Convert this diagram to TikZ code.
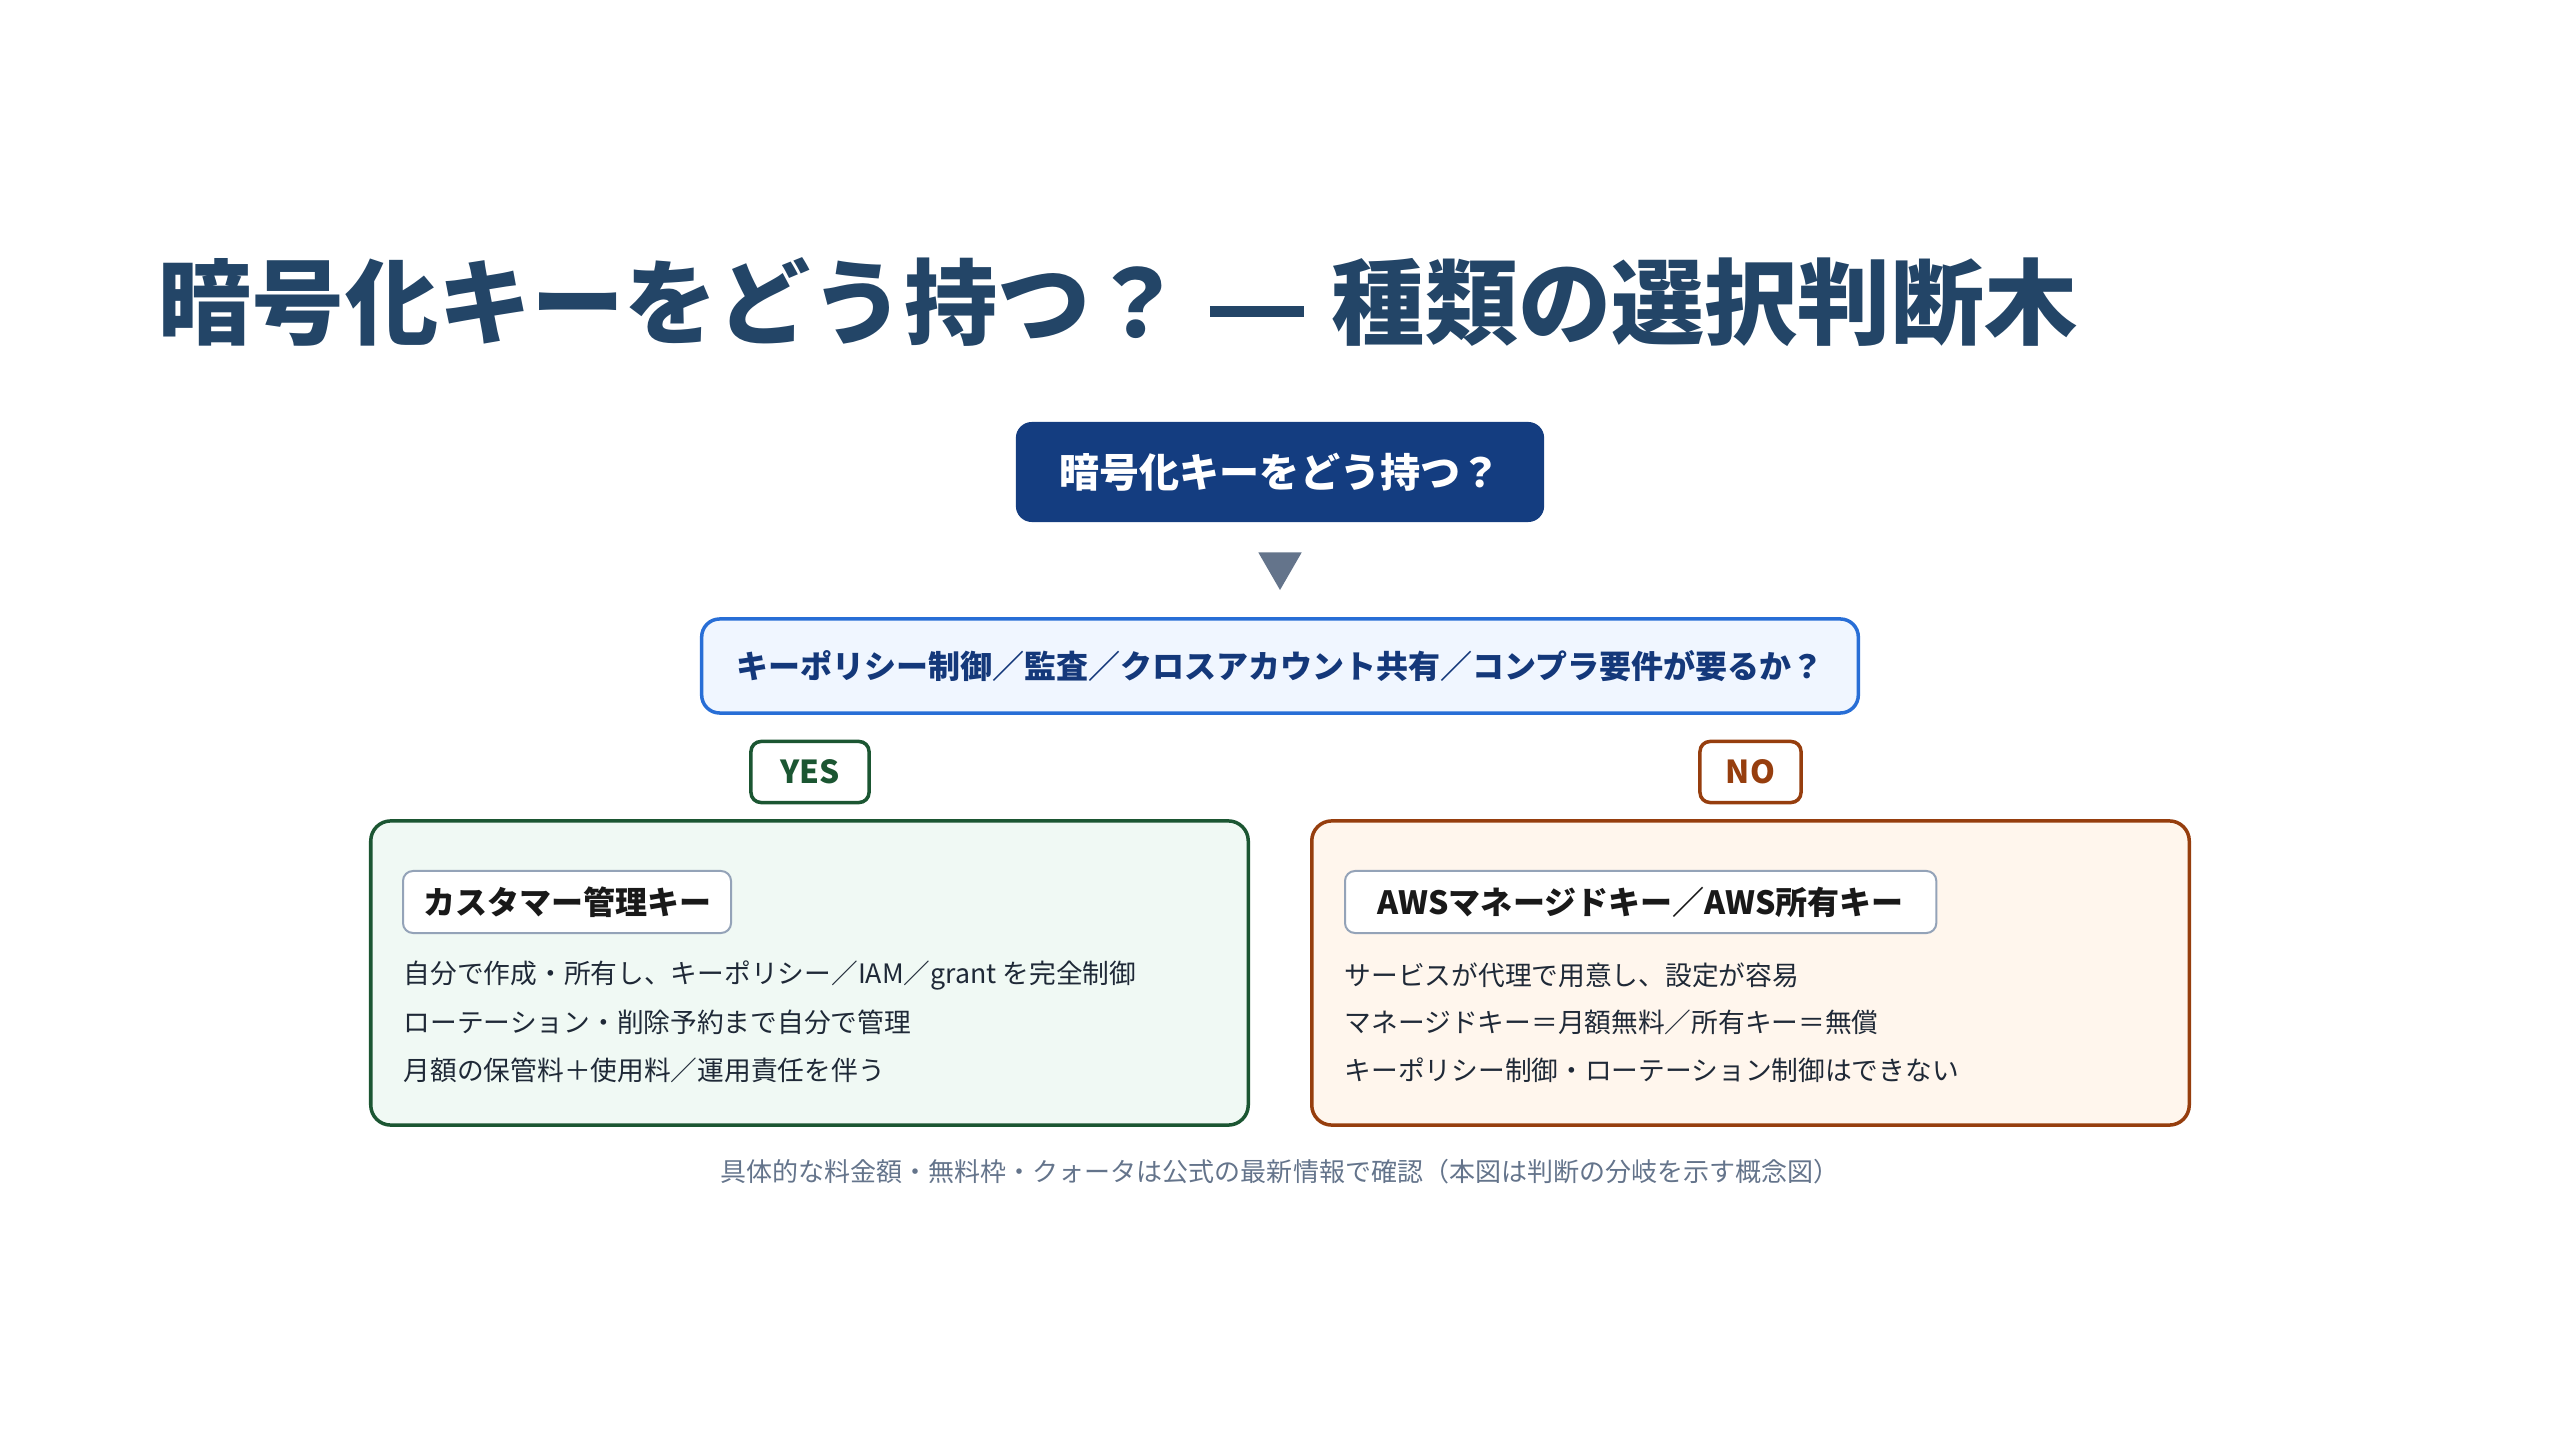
\documentclass[tikz,border=0pt]{standalone}
\usepackage{fontspec}
\setmainfont{Noto Sans CJK JP}
\usetikzlibrary{shapes.geometric}

\definecolor{titlenavy}{RGB}{35,69,103}
\definecolor{rootblue}{RGB}{20,61,128}
\definecolor{askblue}{RGB}{40,110,214}
\definecolor{askfill}{RGB}{240,246,255}
\definecolor{asktext}{RGB}{20,56,122}
\definecolor{yesgreen}{RGB}{27,86,50}
\definecolor{yesfill}{RGB}{240,249,244}
\definecolor{nobrown}{RGB}{150,62,14}
\definecolor{nofill}{RGB}{255,246,237}
\definecolor{tagline}{RGB}{148,163,184}
\definecolor{bodyink}{RGB}{31,41,55}
\definecolor{notegray}{RGB}{100,116,139}

\begin{document}
\begin{tikzpicture}[x=0.01cm,y=-0.01cm,
    root/.style={fill=rootblue,text=white,rounded corners=0.16cm,
      minimum width=5.28cm,minimum height=1cm,font=\fontsize{11.4}{13}\selectfont\bfseries},
    ask/.style={fill=askfill,draw=askblue,line width=0.035cm,rounded corners=0.18cm,
      minimum width=11.56cm,minimum height=0.94cm,text=asktext,font=\fontsize{9.1}{11}\selectfont\bfseries},
    badge/.style={fill=white,line width=0.035cm,rounded corners=0.1cm,
      minimum height=0.61cm,font=\fontsize{9}{11}\selectfont\bfseries},
    branch/.style={line width=0.035cm,rounded corners=0.2cm,
      minimum width=8.77cm,minimum height=3.04cm},
    tag/.style={anchor=west,fill=white,draw=tagline,line width=0.02cm,rounded corners=0.1cm,
      inner xsep=0.2cm,minimum height=0.62cm,text=black!90,font=\fontsize{9.1}{11}\selectfont\bfseries},
    item/.style={anchor=west,inner sep=0pt,text=bodyink,font=\fontsize{7.6}{9}\selectfont}]

  \useasboundingbox (0,0) rectangle (2560,1440);

  % Title
  \node[anchor=west,inner sep=0pt,text=titlenavy,font=\fontsize{26.5}{30}\selectfont\bfseries]
    (title) at (158,302)
    {暗号化キーをどう持つ？\hspace{0.26cm}\rule[0.2cm]{0.94cm}{0.11cm}\hspace{0.28cm}種類の選択判断木};

  % Question
  \node[root] (root) at (1280,472) {暗号化キーをどう持つ？};
  \node[regular polygon,regular polygon sides=3,shape border rotate=180,
    fill=notegray,minimum size=0.5cm,inner sep=0pt] (down) at (1280,565) {};
  \node[ask] (ask) at (1280,666) {キーポリシー制御／監査／クロスアカウント共有／コンプラ要件が要るか？};

  % YES
  \node[badge,draw=yesgreen,text=yesgreen,minimum width=1.18cm] (yes) at (810,772) {YES};
  \node[branch,fill=yesfill,draw=yesgreen] (cmk) at (809.5,973) {};
  \node[tag] (cmktag) at (402,902) {カスタマー管理キー};
  \node[item] (cmk1) at (403,975) {自分で作成・所有し、キーポリシー／IAM／grant を完全制御};
  \node[item] (cmk2) at (403,1022) {ローテーション・削除予約まで自分で管理};
  \node[item] (cmk3) at (403,1070) {月額の保管料＋使用料／運用責任を伴う};

  % NO
  \node[badge,draw=nobrown,text=nobrown,minimum width=1.01cm] (no) at (1750.5,772) {NO};
  \node[branch,fill=nofill,draw=nobrown] (awskey) at (1750.5,973) {};
  \node[tag,minimum width=5.91cm] (awstag) at (1344,902) {AWSマネージドキー／AWS所有キー};
  \node[item] (aws1) at (1344,975) {サービスが代理で用意し、設定が容易};
  \node[item] (aws2) at (1344,1022) {マネージドキー＝月額無料／所有キー＝無償};
  \node[item] (aws3) at (1344,1070) {キーポリシー制御・ローテーション制御はできない};

  % Note
  \node[text=notegray,font=\fontsize{7.4}{9}\selectfont] (note) at (1280,1172)
    {具体的な料金額・無料枠・クォータは公式の最新情報で確認（本図は判断の分岐を示す概念図）};

\end{tikzpicture}
\end{document}
